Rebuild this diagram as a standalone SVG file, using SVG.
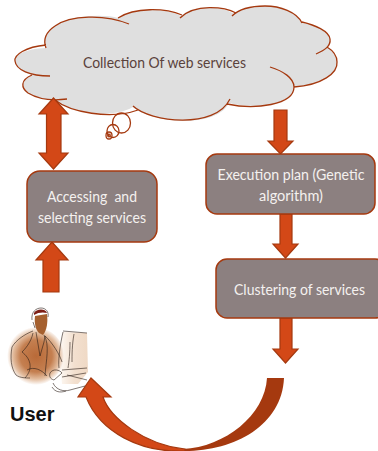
<svg xmlns="http://www.w3.org/2000/svg" width="378" height="451" viewBox="0 0 378 451">
<style>
.arrow{fill:#d34817;stroke:#a5390f;stroke-width:1.2}
.box{fill:#8c8080;stroke:#a5390f;stroke-width:1.5}
.lbl{font-family:"Lato","Open Sans",sans-serif;font-size:15.5px;fill:#f4f1ef;text-anchor:middle}
.ink{fill:none;stroke:#2a1c16;stroke-width:.6}
.cl{fill:none;stroke:#a5390f;stroke-width:1.3}
</style>
<defs>
<radialGradient id="suit" cx=".52" cy=".5" r=".5"><stop offset="0" stop-color="#b96a38"/><stop offset=".55" stop-color="#c47f50"/><stop offset=".8" stop-color="#e3bd9f"/><stop offset="1" stop-color="#fff"/></radialGradient>
<linearGradient id="mon" x1="0" x2="1"><stop offset="0" stop-color="#fdf7f1"/><stop offset=".5" stop-color="#f3e0cf"/><stop offset="1" stop-color="#efd9c5"/></linearGradient>
</defs>
<g id="cloud">
<path d="M46,48C43,40 46,32 55,26C70,15 105,14 118,18C135,7 165,8 181,16C195,3 225,7 234,14C240,9 250,6 265,6C280,6 297,12 302,23C315,25 329,31 330,39C331,42 329,45 327,47C332,50 337,55 337,62C338,73 322,85 294,87C294,105 255,110 229,103C215,130 150,122 133,107C110,120 70,112 55,100C45,100 36,97 28,93C21,88 20,80 32,75C24,73 16,68 15,61C14,55 25,49 46,48Z" fill="#dfdfdf"/>
<path class="cl" d="M129,24C105,14 70,15 55,26C46,32 43,40 46,48M118,18C135,7 165,8 182,15M180,18C195,3 225,7 236,13M232,16C238,10 250,6 265,6C280,6 297,12 302,23M316,54C325,50 331,46 330,39C329,31 315,25 302,22M294,87C322,85 338,73 337,62C337,55 332,50 327,47M270,67C283,71 294,78 294,87C294,105 255,110 227,104M230,99C215,130 150,122 133,106M138,110C110,120 70,112 55,100M67,99C52,101 38,99 28,93C21,88 20,80 32,75M50,76C30,76 16,70 15,61C14,55 25,47 46,45"/>
<ellipse class="cl" cx="121.500" cy="123" rx="9" ry="10"/>
<ellipse class="cl" cx="113" cy="131" rx="6" ry="6.500"/>
<ellipse class="cl" cx="109" cy="135.500" rx="3" ry="3.500"/>
<circle class="cl" cx="109" cy="135.500" r="1.300"/>
<text x="164.500" y="68" style="font-family:Lato,'Open Sans',sans-serif;font-size:15.500px;fill:#5a423c;text-anchor:middle" textLength="163" lengthAdjust="spacingAndGlyphs">Collection Of web services</text>
</g>
<g id="connectors">
<path class="arrow" d="M53.500,98L68,114H61V153H68L53.500,169L39,153H46.500V114H39Z"/>
<path class="arrow" d="M52,242L68,260H59V292H43V260H36Z"/>
<path class="arrow" d="M274,110H287V141H293L280.500,154L268,141H274Z"/>
<path class="arrow" d="M280,214H292V244H298L285.500,258L273,244H280Z"/>
<path class="arrow" d="M280,318H292V349H298L285.500,363L273,349H280Z"/>
<path d="M267,378H284C282,425 235,451 185,451L183,449C225,447 265,415 267,378Z" fill="#a5390f"/>
<path class="arrow" d="M91,378L111,397H103C110,418 145,445 185,449V451C140,453 100,432 86,397H78Z"/>
</g>
<g id="accessing">
<rect class="box" x="27" y="171" width="130" height="71" rx="13"/>
<text class="lbl" x="92" y="202" textLength="90" lengthAdjust="spacingAndGlyphs" xml:space="preserve">Accessing  and</text>
<text class="lbl" x="92" y="223" textLength="108" lengthAdjust="spacingAndGlyphs">selecting services</text>
</g>
<g id="execution">
<rect class="box" x="206" y="154" width="169" height="60" rx="11"/>
<text class="lbl" x="291" y="180" textLength="147" lengthAdjust="spacingAndGlyphs">Execution plan (Genetic</text>
<text class="lbl" x="291" y="201" textLength="64" lengthAdjust="spacingAndGlyphs">algorithm)</text>
</g>
<g id="clustering">
<rect class="box" x="216" y="259" width="170" height="59" rx="11"/>
<text class="lbl" x="299.500" y="295" textLength="131" lengthAdjust="spacingAndGlyphs">Clustering of services</text>
</g>
<g id="user">
<path d="M63,332L87,333L88,372L78,384L62,384C60,365 60,345 63,332Z" fill="url(#mon)"/>
<ellipse cx="35" cy="356" rx="29" ry="29" fill="url(#suit)"/>
<path d="M35,316L47,314C48,322 47,330 43,335L39,333C36,330 34,324 35,316Z" fill="#a5602f"/>
<path d="M34,313C36,309 45,308 47,313C44,312 38,312 34,315Z" fill="#7d1f16"/>
<path class="ink" d="M32,320C31,312 36,308 41,308C46,308 49,312 48,317M33,322L35,328M36,332L40,356L44,342L45,336M33,331C25,334 16,340 12,347C10,358 11,368 16,375C20,378 26,378 30,378M33,333C31,343 24,350 22,352C30,358 34,368 25,378M44,335C50,345 46,360 45,376M45,336C52,342 60,355 62,362M27,370C34,366 42,370 47,376M50,373C53,368 60,370 62,373L54,380C50,379 49,376 50,373M53,383C56,390 64,392 70,390L85,386M63,331L87,333M63,332C60,345 58,360 59,368M74,334C72,345 72,355 72,362M70,342C70,352 69,362 68,368M62,377L86,373M67,375L87,380M62,370L87,368M52,387C55,392 60,393 66,391"/>
<text x="10" y="421" style="font-family:'Liberation Sans',Arial,sans-serif;font-weight:700;font-size:20px;fill:#111">User</text>
</g>
</svg>
